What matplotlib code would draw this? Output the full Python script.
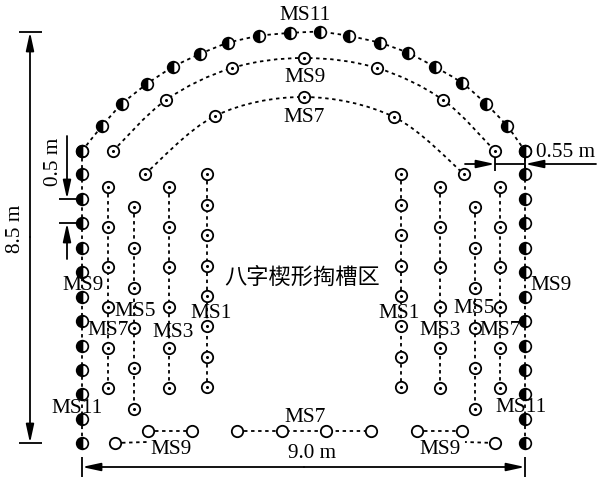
import numpy as np
import matplotlib
matplotlib.use('Agg')
import matplotlib.pyplot as plt
from matplotlib.path import Path
from matplotlib.patches import PathPatch

plt.rcParams['font.family'] = ['Liberation Serif', 'Noto Sans CJK SC']

# hole positions (x right, y down)
ms11_arc_x = [82, 102, 122, 147, 173, 200, 228, 259, 290, 320, 349, 380, 408, 435, 462, 486, 507, 525]
ms11_arc_y = [152, 127, 105, 85, 68, 55, 44, 37, 34, 33, 37, 44, 54, 68, 84, 105, 127, 152]
ms9_arc_x = [113, 166, 232, 304, 377, 443, 495]
ms9_arc_y = [152, 101, 69, 59, 69, 101, 152]
ms7_arc_x = [145, 215, 304, 394, 464]
ms7_arc_y = [175, 117, 98, 118, 175]

wall_x = [82, 525]
wall_y = [152, 175, 200, 224, 249, 273, 298, 322, 347, 371, 395, 420, 444]
ms9_col_x = [108, 500]
ms3_col_x = [169, 440]
side_col_y = [188, 228, 268, 308, 349, 389]
ms5_col_x = [134, 475]
ms5_col_y = [208, 249, 289, 329, 369, 410]
ms1_col_x = [207, 401]
ms1_col_y = [175, 206, 236, 267, 297, 327, 358, 388]

floor_upper_y = 432
floor_lower_y = 444
floor_groups = [[148, 192], [237, 282, 326, 371], [417, 462]]
floor_lower_x = [115, 495]
floor_lower_end = [147, 465]

labels = [
    ('MS11', 305, 16), ('MS9', 305, 77), ('MS7', 304, 117),
    ('MS9', 83, 286), ('MS5', 135, 312), ('MS7', 108, 331),
    ('MS3', 173, 333), ('MS1', 211, 314), ('MS11', 77, 409),
    ('MS9', 171, 450), ('MS7', 305, 418),
    ('MS1', 399, 314), ('MS3', 440, 331), ('MS5', 474, 309),
    ('MS7', 500, 331), ('MS9', 551, 286), ('MS11', 521, 408),
    ('MS9', 440, 450),
]

DOTS = (0, (1.9, 2.0))
TEXT_SIZE = 15.3


def smooth_path(xs, ys):
    # catmull-rom through the holes, written as bezier segments
    pts = np.column_stack([xs, ys]).astype(float)
    verts = [pts[0]]
    codes = [Path.MOVETO]
    for i in range(len(pts) - 1):
        p0 = pts[max(i - 1, 0)]
        p1 = pts[i]
        p2 = pts[i + 1]
        p3 = pts[min(i + 2, len(pts) - 1)]
        verts += [p1 + (p2 - p0) / 6, p2 - (p3 - p1) / 6, p2]
        codes += [Path.CURVE4] * 3
    return Path(verts, codes)


def dotted(ax, xs, ys):
    ax.plot(xs, ys, color='black', lw=1.3, ls=DOTS, zorder=1)


def open_holes(ax, xs, ys):
    ax.plot(xs, ys, ls='none', marker='o', ms=8.2, mfc='white', mec='black', mew=1.3, zorder=3)
    ax.plot(xs, ys, ls='none', marker='o', ms=1.2, color='black', zorder=4)


def half_holes(ax, xs, ys):
    ax.plot(xs, ys, ls='none', marker='o', ms=8.4, fillstyle='left', mfc='black',
            markerfacecoloralt='white', mec='black', mew=1.2, zorder=3)


def arrow(ax, start, end):
    ax.annotate('', xy=end, xytext=start,
                arrowprops=dict(arrowstyle='-|>,head_length=1.1,head_width=0.24', color='black',
                                lw=1.3, shrinkA=0, shrinkB=0, mutation_scale=10))


def seg(ax, xs, ys):
    ax.plot(xs, ys, color='black', lw=1.3, zorder=2, solid_capstyle='butt')


fig = plt.figure(figsize=(5.97, 4.81), dpi=100)
ax = fig.add_axes([0, 0, 1, 1])
ax.set_xlim(0, 597)
ax.set_ylim(481, 0)
ax.axis('off')

# arcs
for xs, ys in [(ms11_arc_x, ms11_arc_y), (ms9_arc_x, ms9_arc_y), (ms7_arc_x, ms7_arc_y)]:
    ax.add_patch(PathPatch(smooth_path(xs, ys), fc='none', ec='black', lw=1.3, ls=DOTS, zorder=1))
half_holes(ax, ms11_arc_x, ms11_arc_y)
open_holes(ax, ms9_arc_x, ms9_arc_y)
open_holes(ax, ms7_arc_x, ms7_arc_y)

# side walls and cut columns
for x in wall_x:
    dotted(ax, [x] * len(wall_y), wall_y)
    half_holes(ax, [x] * len(wall_y), wall_y)
for col_xs, col_y in [(ms9_col_x, side_col_y), (ms3_col_x, side_col_y),
                      (ms5_col_x, ms5_col_y), (ms1_col_x, ms1_col_y)]:
    for x in col_xs:
        dotted(ax, [x] * len(col_y), col_y)
        open_holes(ax, [x] * len(col_y), col_y)

# floor
for group in floor_groups:
    dotted(ax, group, [floor_upper_y] * len(group))
    ax.plot(group, [floor_upper_y] * len(group), ls='none', marker='o', ms=8.2, mfc='white',
            mec='black', mew=1.3, zorder=3)
for x, x_end in zip(floor_lower_x, floor_lower_end):
    dotted(ax, [x, x_end], [floor_lower_y, floor_lower_y - 1])
    ax.plot([x], [floor_lower_y], ls='none', marker='o', ms=8.2, mfc='white', mec='black',
            mew=1.3, zorder=3)

# 8.5 m
seg(ax, [19, 42], [33, 33])
seg(ax, [19, 42], [444, 444])
arrow(ax, (30, 238), (30, 33))
arrow(ax, (30, 238), (30, 444))
ax.text(15, 229, '8.5 m', fontsize=TEXT_SIZE, rotation=90, ha='center', va='center')

# 0.5 m
seg(ax, [59, 82], [200, 200])
seg(ax, [59, 82], [224, 224])
arrow(ax, (67, 137), (67, 200))
arrow(ax, (67, 260), (67, 224))
ax.text(54, 162, '0.5 m', fontsize=TEXT_SIZE, rotation=90, ha='center', va='center')

# 0.55 m
seg(ax, [495, 525], [165, 165])
seg(ax, [495, 495], [157, 172])
seg(ax, [525, 525], [157, 172])
arrow(ax, (465, 165), (495, 165))
arrow(ax, (596, 165), (525, 165))
ax.text(536, 153, '0.55 m', fontsize=TEXT_SIZE, ha='left', va='center')

# 9.0 m
seg(ax, [82, 82], [458, 478])
seg(ax, [525, 525], [458, 478])
arrow(ax, (304, 468), (82, 468))
arrow(ax, (304, 468), (525, 468))
ax.text(312, 454, '9.0 m', fontsize=TEXT_SIZE, ha='center', va='center')

for text, x, y in labels:
    ax.text(x, y, text, fontsize=TEXT_SIZE, ha='center', va='center', zorder=5)
ax.text(302, 278, '八字楔形掏槽区', fontsize=16, ha='center', va='center', zorder=5, fontweight='light')

fig.savefig('out.png', dpi=100)
